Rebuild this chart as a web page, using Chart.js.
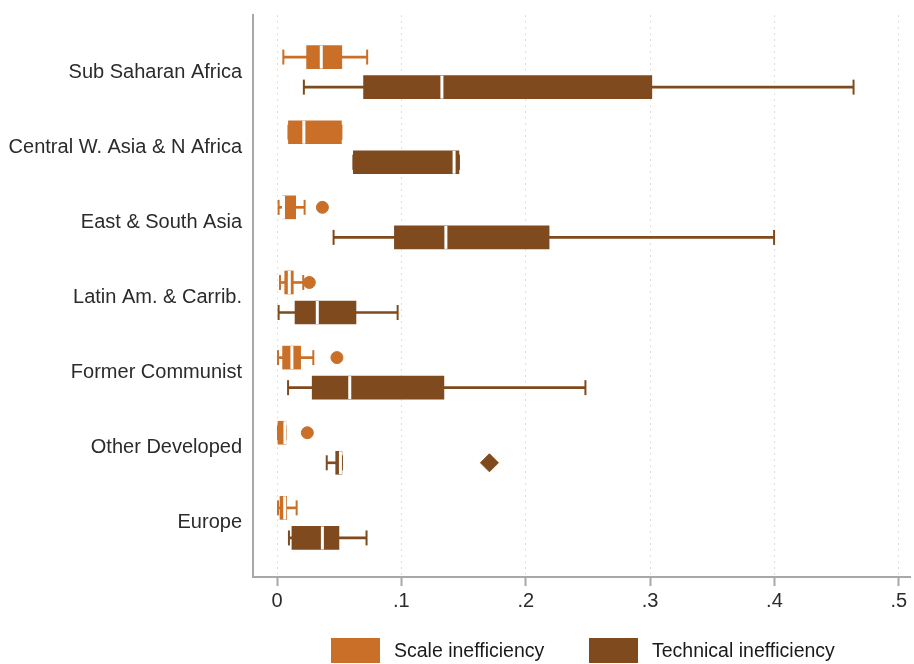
<!DOCTYPE html>
<html>
<head>
<meta charset="utf-8">
<script src="https://cdn.jsdelivr.net/npm/chart.js@4.4.1/dist/chart.umd.min.js"></script>
<style>
  body { margin: 0; background: #fff; }
  #wrap { position: relative; width: 914px; height: 664px; }
  #legend { position: absolute; left: 0; top: 638px; width: 914px; font: 19.5px "Liberation Sans", Arial, sans-serif; color: #1a1a1a; }
  .item { position: absolute; top: 0; display: flex; align-items: center; white-space: nowrap; }
  .swatch { width: 49px; height: 25px; margin-right: 14px; }
</style>
</head>
<body>
<div id="wrap">
  <canvas id="box" width="914" height="664"></canvas>
  <div id="legend"></div>
</div>
<script>
var regions = ['Sub Saharan Africa', 'Central W. Asia & N Africa', 'East & South Asia',
  'Latin Am. & Carrib.', 'Former Communist', 'Other Developed', 'Europe'];

// scale inefficiency (min, q1, median, q3, max)
var scaleMin = [0.0051, 0.0092, 0.0013, 0.0024, 0.0008, 0.0008, 0.0008];
var scaleQ1  = [0.0238, 0.0092, 0.0045, 0.0062, 0.0045, 0.0008, 0.0024];
var scaleMed = [0.0356, 0.0216, 0.0052, 0.0099, 0.0120, 0.0064, 0.0062];
var scaleQ3  = [0.0521, 0.0518, 0.0150, 0.0131, 0.0190, 0.0072, 0.0078];
var scaleMax = [0.0725, 0.0518, 0.0222, 0.0211, 0.0292, 0.0072, 0.0158];
var scaleOutRegion = [2, 3, 4, 5];
var scaleOutValue  = [0.0365, 0.0260, 0.0482, 0.0244];

// technical inefficiency
var techMin = [0.0216, 0.0614, 0.0455, 0.0013, 0.0089, 0.0400, 0.0096];
var techQ1  = [0.0696, 0.0614, 0.0944, 0.0145, 0.0283, 0.0472, 0.0120];
var techMed = [0.1326, 0.1424, 0.1358, 0.0324, 0.0585, 0.0510, 0.0365];
var techQ3  = [0.3014, 0.1463, 0.2188, 0.0635, 0.1342, 0.0522, 0.0498];
var techMax = [0.4636, 0.1463, 0.3997, 0.0970, 0.2480, 0.0522, 0.0720];
var techOutRegion = [5];
var techOutValue  = [0.1708];

var xTicks = [0, 0.1, 0.2, 0.3, 0.4, 0.5];
var xTickLabels = ['0', '.1', '.2', '.3', '.4', '.5'];

var SC = '#c96f28', TC = '#7f4a1d';
var offScale = -0.2, offTech = 0.2;

function ranges(lo, hi, off) {
    return regions.map(function (r, i) { return { x: [lo[i], hi[i]], y: i + off }; });
}
function points(vals, off) {
    return regions.map(function (r, i) { return { x: vals[i], y: i + off }; });
}
function outliers(idx, vals, off) {
    return idx.map(function (r, i) { return { x: vals[i], y: r + off }; });
}

function whisker(lo, hi, off, col) {
    return { type: 'bar', data: ranges(lo, hi, off), backgroundColor: col, barThickness: 2,
        grouped: false, order: 6 };
}
function caps(lo, hi, off, col) {
    return { type: 'scatter', data: points(lo, off).concat(points(hi, off)), pointStyle: 'line',
        pointRotation: 90, pointRadius: 7.5, pointHoverRadius: 7.5, pointBorderWidth: 2,
        pointBorderColor: col, order: 5 };
}
function boxes(label, lo, hi, off, col) {
    return { type: 'bar', label: label, data: ranges(lo, hi, off), backgroundColor: col,
        barThickness: 23, grouped: false, order: 4 };
}
function medians(vals, off) {
    return { type: 'scatter', data: points(vals, off), pointStyle: 'line', pointRotation: 90,
        pointRadius: 11.5, pointHoverRadius: 11.5, pointBorderWidth: 3, pointBorderColor: '#fff', order: 3 };
}

Chart.defaults.font.family = '"Liberation Sans", Arial, sans-serif';
Chart.defaults.font.size = 20;
Chart.defaults.color = '#2b2b2b';

var chart = new Chart(document.getElementById('box'), {
    type: 'bar',
    data: {
        datasets: [
            whisker(scaleMin, scaleMax, offScale, SC),
            whisker(techMin, techMax, offTech, TC),
            caps(scaleMin, scaleMax, offScale, SC),
            caps(techMin, techMax, offTech, TC),
            boxes('Scale inefficiency', scaleQ1, scaleQ3, offScale, SC),
            boxes('Technical inefficiency', techQ1, techQ3, offTech, TC),
            medians(scaleMed, offScale),
            medians(techMed, offTech),
            { type: 'scatter', data: outliers(scaleOutRegion, scaleOutValue, offScale), pointStyle: 'circle',
              pointRadius: 6, pointHoverRadius: 6, pointBackgroundColor: SC, pointBorderColor: SC, order: 2 },
            { type: 'scatter', data: outliers(techOutRegion, techOutValue, offTech), pointStyle: 'rectRot',
              pointRadius: 9, pointHoverRadius: 9, pointBackgroundColor: TC, pointBorderColor: TC, order: 2 }
        ]
    },
    options: {
        responsive: false,
        animation: false,
        indexAxis: 'y',
        layout: { autoPadding: false, padding: { left: 0, top: 15, right: 4, bottom: 48 } },
        plugins: { legend: { display: false }, tooltip: { enabled: false } },
        scales: {
            x: {
                type: 'linear', min: -0.0193, max: 0.509, offset: false,
                afterBuildTicks: function (s) { s.ticks = xTicks.map(function (v) { return { value: v }; }); },
                afterFit: function (s) { s.paddingLeft = 0; s.paddingRight = 0; },
                ticks: { padding: 3, callback: function (v, i) { return xTickLabels[i]; } },
                grid: { color: '#e0e0e0', tickColor: '#a8a8a8', tickWidth: 2, tickLength: 9, offset: false },
                border: { color: '#a8a8a8', width: 2, dash: [2, 4] }
            },
            y: {
                type: 'linear', reverse: true, min: -0.76, max: 6.72, offset: false,
                afterBuildTicks: function (s) { s.ticks = regions.map(function (r, i) { return { value: i }; }); },
                afterFit: function (s) { s.width = 253; s.paddingTop = 0; s.paddingBottom = 0; },
                ticks: { padding: 11, callback: function (v, i) { return regions[i]; } },
                grid: { display: false, drawTicks: false, offset: false },
                border: { color: '#a8a8a8', width: 2 }
            }
        }
    }
});

// legend below the plot, built from the two box datasets
var lg = document.getElementById('legend');
var legendLeft = [331, 589];
chart.data.datasets.filter(function (d) { return d.label; }).forEach(function (d, i) {
    var it = document.createElement('div');
    it.className = 'item';
    it.style.left = legendLeft[i] + 'px';
    it.innerHTML = '<span class="swatch" style="background:' + d.backgroundColor + '"></span><span>' + d.label + '</span>';
    lg.appendChild(it);
});
</script>
</body>
</html>
